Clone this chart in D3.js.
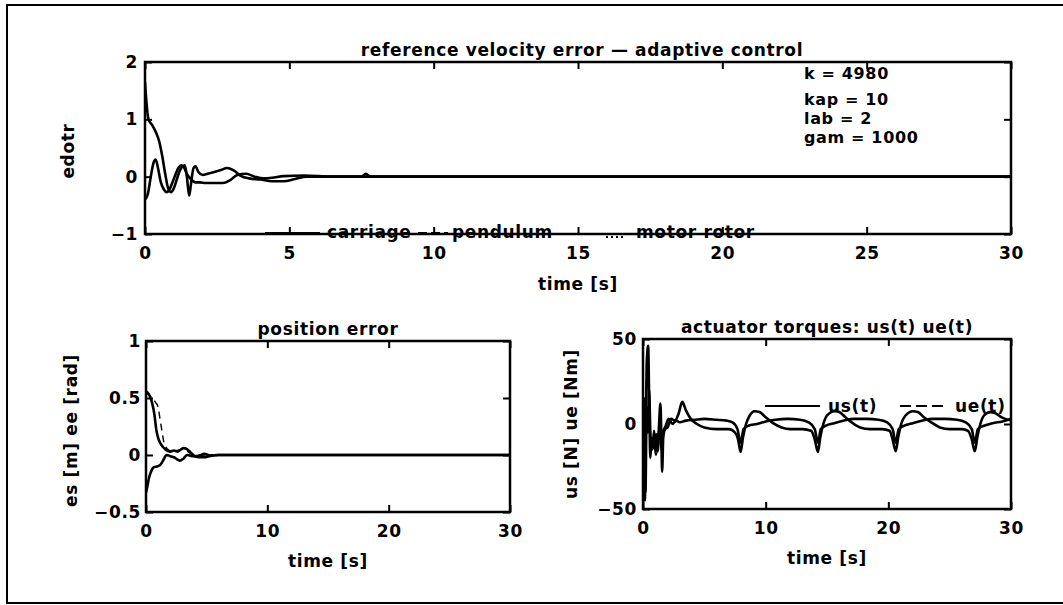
<!DOCTYPE html>
<html><head><meta charset="utf-8">
<script src="https://cdn.jsdelivr.net/npm/d3@7"></script>
<style>
body{margin:0;background:#fff;}
svg text{font-family:"DejaVu Sans",sans-serif;font-weight:bold;font-size:17px;fill:#000;letter-spacing:0.65px;}
</style></head>
<body>
<svg id="c" width="1063" height="605"></svg>
<script>
// ---------- data ----------
const xTicksTop = [0,5,10,15,20,25,30];
const yTicksTop = [-1,0,1,2];
const xTicksBottom = [0,10,20,30];
const yTicksPos = [-0.5,0,0.5,1];
const yTicksTorque = [-50,0,50];

const carriageT = [0,0.05,0.12,0.25,0.4,0.5,0.6,0.7,0.8,0.9,1.0,1.1,1.2,1.3,1.38,1.45,1.53,1.6,1.68,1.75,1.85,2.0,2.3,2.6,2.85,3.1,3.3,3.6,4.0,4.4,4.8,5.2,5.6,6.5,7.5,7.65,7.8,8.5,12,18,24,30];
const carriageV = [1.65,1.3,1.0,0.9,0.75,0.6,0.35,0.05,-0.2,-0.27,-0.2,-0.05,0.1,0.18,0.2,0.0,-0.33,-0.1,0.15,0.18,0.08,0.03,0.07,0.11,0.15,0.1,0.02,-0.03,-0.05,-0.08,-0.08,-0.04,0.0,0.0,0.0,0.05,0.0,0.0,0.0,0.0,0.0,0.0];
const pendulumT = [0,0.1,0.2,0.3,0.37,0.45,0.55,0.65,0.75,0.85,0.95,1.05,1.15,1.25,1.33,1.45,1.6,1.75,1.9,2.1,2.4,2.7,2.95,3.2,3.5,3.8,4.1,4.4,4.8,5.5,6.5,8,12,18,24,30];
const pendulumV = [-0.4,-0.3,0.0,0.25,0.3,0.15,-0.1,-0.22,-0.27,-0.22,-0.1,0.03,0.15,0.2,0.18,0.05,-0.05,-0.1,-0.1,-0.11,-0.11,-0.11,-0.06,0.03,0.05,0.0,-0.03,-0.02,0.01,0.02,0.0,0.0,0.0,0.0,0.0,0.0];

const esT = [0,0.1,0.3,0.5,0.7,0.85,1.0,1.2,1.4,1.7,2.0,2.3,2.6,2.9,3.1,3.4,3.7,4.0,4.4,4.8,5.2,6,8,12,20,30];
const esV = [0.56,0.55,0.52,0.46,0.35,0.22,0.15,0.1,0.07,0.04,0.03,0.04,0.03,0.05,0.06,0.05,0.02,-0.01,-0.02,-0.02,-0.01,0.0,0.0,0.0,0.0,0.0];
const eeT = [0,0.1,0.25,0.4,0.6,0.9,1.15,1.4,1.7,2.0,2.3,2.6,2.8,3.1,3.4,3.8,4.3,4.8,5.3,6,8,12,20,30];
const eeV = [-0.33,-0.28,-0.2,-0.15,-0.11,-0.1,-0.09,-0.05,0.0,-0.01,-0.02,-0.04,-0.05,-0.03,0.0,-0.01,-0.01,0.01,-0.005,0,0,0,0,0];
const esDashT = [0,0.5,0.8,1.0,1.15,1.3,1.5,1.8,2.2,3.0,4.0,6.0,30];
const esDashV = [0.55,0.5,0.46,0.42,0.32,0.22,0.1,0.05,0.03,0.05,0.0,0.0,0.0];

const usT = [0,0.08,0.15,0.22,0.3,0.42,0.52,0.6,0.7,0.8,0.9,1.0,1.1,1.2,1.3,1.42,1.5,1.56,1.65,1.8,2.0,2.3,2.6,2.9,3.2,3.5,3.9,4.4,5.0,6.0,7.0,7.5,7.75,7.96,8.15,8.4,8.7,9.1,9.5,10.0,10.6,11.3,12,13,13.7,14.0,14.26,14.45,14.7,15.0,15.6,16.0,16.5,17.0,17.7,18.5,19.5,20.1,20.35,20.6,20.8,21.05,21.4,22.0,22.4,22.9,23.5,24.2,25,26,26.5,26.8,27.05,27.25,27.5,27.8,28.3,28.7,29.2,30];
const usV = [0,-30,-45,-5,35,46,5,-20,-8,-14,-4,-12,-6,-16,-2,12,-10,-28,-8,-3,-2,3,2,6,13,8,3,0,-2,-3,-3,-5,-9,-16.5,-8,0,5,7.5,7,4,0.5,-2,-3,-3,-4,-9,-16.5,-8,0,5,7.5,7,4,1,-2,-3,-3,-4,-9,-16,-8,0,5,7.5,7,4,1,-2,-3,-3,-4,-9,-16,-8,0,5,7,6.5,4,2];
const ueT = [0,0.1,0.2,0.3,0.4,0.5,0.6,0.75,0.9,1.05,1.2,1.35,1.5,1.6,1.8,2.1,2.4,2.7,3.0,3.5,4.2,5,6,6.8,7.3,7.7,7.96,8.2,8.6,9.3,10,10.8,11.8,12.8,13.5,14.0,14.26,14.5,14.9,15.6,16.4,17.2,18.2,19.2,19.9,20.35,20.6,20.85,21.3,22,22.8,23.6,24.6,25.6,26.3,26.8,27.05,27.3,27.8,28.5,29.3,30];
const ueV = [0,15,-40,10,-5,20,-5,-15,-8,-18,-10,-3,-15,-5,-2,3,0,2,1,2,2.5,3,2.5,2,1,-3,-11,-3,-1,0,1.5,2.5,3,2.5,1,-3,-11,-3,-1,0.5,2,3,3,2.5,1,-3,-11,-3,-1,0.5,2,3,3,2.5,1,-3,-11,-3,-1,0.5,1.5,3];

// ---------- drawing ----------
const svg = d3.select("#c");
svg.append("path").attr("d","M1070,5 H7 V603 H1070").attr("fill","none").attr("stroke","#000").attr("stroke-width",2);

function panel(o){
  const g = svg.append("g");
  const x = d3.scaleLinear().domain([0,30]).range([o.x0,o.x1]);
  const y = d3.scaleLinear().domain(o.yd).range([o.y1,o.y0]);
  const id = "clip"+o.id;
  svg.append("clipPath").attr("id",id).append("rect")
     .attr("x",o.x0).attr("y",o.y0).attr("width",o.x1-o.x0).attr("height",o.y1-o.y0);
  const fmt = d => (d<0? "\u2212"+Math.abs(d) : String(d));
  const ax = g.append("g").attr("transform",`translate(0,${o.y1})`)
     .call(d3.axisBottom(x).tickValues(o.xt).tickSizeInner(-7).tickSizeOuter(0).tickPadding(o.xpad).tickFormat(fmt));
  const axT = g.append("g").attr("transform",`translate(0,${o.y0})`)
     .call(d3.axisTop(x).tickValues(o.xt).tickSizeInner(-7).tickSizeOuter(0).tickFormat(""));
  const ay = g.append("g").attr("transform",`translate(${o.x0},0)`)
     .call(d3.axisLeft(y).tickValues(o.yt).tickSizeInner(-7).tickSizeOuter(0).tickPadding(o.ypad).tickFormat(fmt));
  const ayR = g.append("g").attr("transform",`translate(${o.x1},0)`)
     .call(d3.axisRight(y).tickValues(o.yt).tickSizeInner(-7).tickSizeOuter(0).tickFormat(""));
  [ax,axT,ay,ayR].forEach(a=>{
    a.attr("font-family",null).attr("font-size",null);
    a.select(".domain").remove();
    a.selectAll("line").attr("stroke","#000").attr("stroke-width",2);
  });
  const line = d3.line().x(d=>x(d[0])).y(d=>y(d[1])).curve(d3.curveMonotoneX);
  o.series.forEach(s=>{
    const pts = s.t.map((t,i)=>[t,s.v[i]]);
    g.append("path").attr("d",line(pts)).attr("fill","none").attr("stroke","#000")
      .attr("stroke-width",s.w||2.6).attr("stroke-dasharray",s.dash||null)
      .attr("stroke-linejoin","round").attr("clip-path",`url(#${id})`);
  });
  g.append("rect").attr("x",o.x0).attr("y",o.y0).attr("width",o.x1-o.x0).attr("height",o.y1-o.y0)
    .attr("fill","none").attr("stroke","#000").attr("stroke-width",2.5);
  g.append("text").attr("x",(o.x0+o.x1)/2+o.tdx).attr("y",o.y0-6).attr("text-anchor","middle").text(o.title);
  g.append("text").attr("x",(o.x0+o.x1)/2+o.xdx).attr("y",o.y1+o.xly).attr("text-anchor","middle").text("time [s]");
  g.append("text").attr("transform",`translate(${o.ylx},${(o.y0+o.y1)/2+o.yldy}) rotate(-90)`)
    .attr("text-anchor","middle").attr("dominant-baseline","middle").text(o.ylabel);
  return {g,x,y};
}

const panelTop = panel({id:"t",x0:145,x1:1011,y0:62,y1:234,yd:[-1,2],xt:xTicksTop,yt:yTicksTop,xpad:13,ypad:7,
  title:"reference velocity error \u2014 adaptive control",tdx:4,xdx:0,xly:56,ylx:69,yldy:3,ylabel:"edotr",
  series:[{t:carriageT,v:carriageV},{t:pendulumT,v:pendulumV}]});
const panelLeft = panel({id:"l",x0:146,x1:510,y0:341,y1:512,yd:[-0.5,1],xt:xTicksBottom,yt:yTicksPos,xpad:13,ypad:5,
  title:"position error",tdx:0,xdx:0,xly:55,ylx:72,yldy:4,ylabel:"es [m] ee [rad]",
  series:[{t:esT,v:esV},{t:eeT,v:eeV},{t:esDashT,v:esDashV,w:1.4,dash:"7,5"}]});
const panelRight = panel({id:"r",x0:643,x1:1011,y0:339,y1:509,yd:[-50,50],xt:xTicksBottom,yt:yTicksTorque,xpad:13,ypad:6,
  title:"actuator torques: us(t) ue(t)",tdx:0,xdx:0,xly:55,ylx:572,yldy:0,ylabel:"us [N]  ue [Nm]",
  series:[{t:usT,v:usV},{t:ueT,v:ueV}]});

const notes = ["k = 4980","kap = 10","lab = 2","gam = 1000"];
const noteY = [79,105,124,143];
notes.forEach((n,i)=> svg.append("text").attr("x",804).attr("y",noteY[i]).style("font-size","16px").text(n));

function legendItem(x1,x2,y,dash,label,lx,ly){
  svg.append("line").attr("x1",x1).attr("x2",x2).attr("y1",y).attr("y2",y)
    .attr("stroke","#000").attr("stroke-width",2).attr("stroke-dasharray",dash||null);
  svg.append("text").attr("x",lx).attr("y",ly).text(label);
}
legendItem(265,320,233,null,"carriage",327,238);
legendItem(418,448,233,"9,4","pendulum",452,238);
legendItem(606,624,237,"2,3","motor rotor",636,238);
legendItem(765,820,406,null,"us(t)",828,412);
legendItem(900,947,406,"11,5","ue(t)",955,412);
</script>
</body></html>
